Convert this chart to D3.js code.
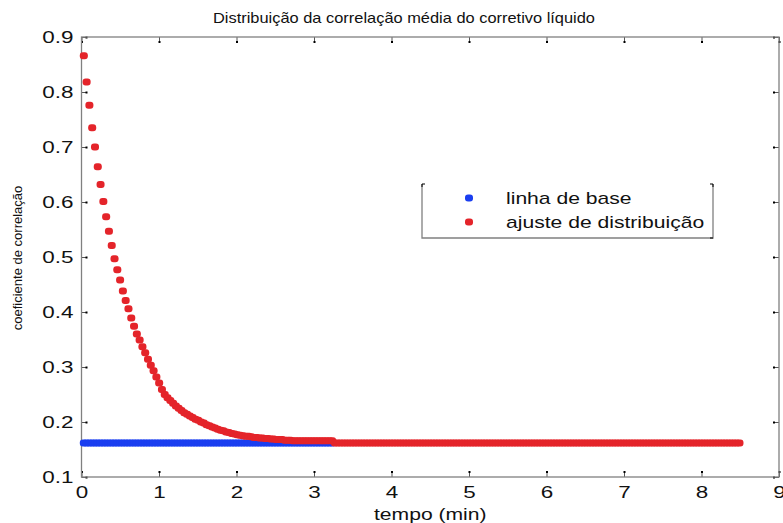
<!DOCTYPE html>
<html>
<head>
<meta charset="utf-8">
<script src="https://cdn.jsdelivr.net/npm/d3@7"></script>
<style>
body { margin: 0; background: #fff; }
text { font-family: "Liberation Sans", Arial, sans-serif; fill: #111; }
</style>
</head>
<body>
<div id="chart"></div>
<script>
// CHART START
const width = 783
const height = 523
const margin = {
    top: 37,
    bottom: 46,
    left: 81.5,
    right: 4
}

// textos
const title = "Distribuição da correlação média do corretivo líquido"
const xLabel = "tempo (min)"
const yLabel = "coeficiente de correlação"
const seriesNames = ["linha de base", "ajuste de distribuição"]
const seriesColors = ["#1a3ef0", "#e4242a"]

// ticks
const xTicks = [0, 1, 2, 3, 4, 5, 6, 7, 8, 9]
const yTicks = [0.1, 0.2, 0.3, 0.4, 0.5, 0.6, 0.7, 0.8, 0.9]

// tempo (min) de cada amostra
const time = [
    0.030, 0.066, 0.102, 0.138, 0.174, 0.210, 0.246, 0.282, 0.318, 0.354,
    0.390, 0.426, 0.462, 0.498, 0.534, 0.570, 0.606, 0.642, 0.678, 0.714,
    0.750, 0.786, 0.822, 0.858, 0.894, 0.930, 0.966, 1.002, 1.038, 1.074,
    1.110, 1.146, 1.182, 1.218, 1.254, 1.290, 1.326, 1.362, 1.398, 1.434,
    1.470, 1.506, 1.542, 1.578, 1.614, 1.650, 1.686, 1.722, 1.758, 1.794,
    1.830, 1.866, 1.902, 1.938, 1.974, 2.010, 2.046, 2.082, 2.118, 2.154,
    2.190, 2.226, 2.262, 2.298, 2.334, 2.370, 2.406, 2.442, 2.478, 2.514,
    2.550, 2.586, 2.622, 2.658, 2.694, 2.730, 2.766, 2.802, 2.838, 2.874,
    2.910, 2.946, 2.982, 3.018, 3.054, 3.090, 3.126, 3.162, 3.198, 3.234,
    3.270, 3.306, 3.342, 3.378, 3.414, 3.450, 3.486, 3.522, 3.558, 3.594,
    3.630, 3.666, 3.702, 3.738, 3.774, 3.810, 3.846, 3.882, 3.918, 3.954,
    3.990, 4.026, 4.062, 4.098, 4.134, 4.170, 4.206, 4.242, 4.278, 4.314,
    4.350, 4.386, 4.422, 4.458, 4.494, 4.530, 4.566, 4.602, 4.638, 4.674,
    4.710, 4.746, 4.782, 4.818, 4.854, 4.890, 4.926, 4.962, 4.998, 5.034,
    5.070, 5.106, 5.142, 5.178, 5.214, 5.250, 5.286, 5.322, 5.358, 5.394,
    5.430, 5.466, 5.502, 5.538, 5.574, 5.610, 5.646, 5.682, 5.718, 5.754,
    5.790, 5.826, 5.862, 5.898, 5.934, 5.970, 6.006, 6.042, 6.078, 6.114,
    6.150, 6.186, 6.222, 6.258, 6.294, 6.330, 6.366, 6.402, 6.438, 6.474,
    6.510, 6.546, 6.582, 6.618, 6.654, 6.690, 6.726, 6.762, 6.798, 6.834,
    6.870, 6.906, 6.942, 6.978, 7.014, 7.050, 7.086, 7.122, 7.158, 7.194,
    7.230, 7.266, 7.302, 7.338, 7.374, 7.410, 7.446, 7.482, 7.518, 7.554,
    7.590, 7.626, 7.662, 7.698, 7.734, 7.770, 7.806, 7.842, 7.878, 7.914,
    7.950, 7.986, 8.022, 8.058, 8.094, 8.130, 8.166, 8.202, 8.238, 8.274,
    8.310, 8.346, 8.382, 8.418, 8.454, 8.490
]

// linha de base (azul)
const baseValue = [
    0.162, 0.162, 0.162, 0.162, 0.162, 0.162, 0.162, 0.162, 0.162, 0.162,
    0.162, 0.162, 0.162, 0.162, 0.162, 0.162, 0.162, 0.162, 0.162, 0.162,
    0.162, 0.162, 0.162, 0.162, 0.162, 0.162, 0.162, 0.162, 0.162, 0.162,
    0.162, 0.162, 0.162, 0.162, 0.162, 0.162, 0.162, 0.162, 0.162, 0.162,
    0.162, 0.162, 0.162, 0.162, 0.162, 0.162, 0.162, 0.162, 0.162, 0.162,
    0.162, 0.162, 0.162, 0.162, 0.162, 0.162, 0.162, 0.162, 0.162, 0.162,
    0.162, 0.162, 0.162, 0.162, 0.162, 0.162, 0.162, 0.162, 0.162, 0.162,
    0.162, 0.162, 0.162, 0.162, 0.162, 0.162, 0.162, 0.162, 0.162, 0.162,
    0.162, 0.162, 0.162, 0.162, 0.162, 0.162, 0.162, 0.162, 0.162, 0.162
]

// ajuste de distribuição (vermelho)
const fitValue = [
    0.866, 0.818, 0.776, 0.735, 0.700, 0.664, 0.632, 0.601, 0.573, 0.547,
    0.521, 0.497, 0.477, 0.458, 0.438, 0.421, 0.406, 0.389, 0.374, 0.360,
    0.349, 0.337, 0.326, 0.314, 0.303, 0.293, 0.282, 0.271, 0.259, 0.250,
    0.244, 0.239, 0.234, 0.229, 0.225, 0.221, 0.217, 0.214, 0.211, 0.208,
    0.205, 0.203, 0.200, 0.198, 0.195, 0.193, 0.191, 0.189, 0.187, 0.185,
    0.184, 0.182, 0.181, 0.179, 0.178, 0.177, 0.176, 0.175, 0.174, 0.174,
    0.173, 0.172, 0.172, 0.171, 0.171, 0.170, 0.170, 0.169, 0.169, 0.168,
    0.168, 0.168, 0.167, 0.167, 0.167, 0.166, 0.166, 0.166, 0.166, 0.166,
    0.166, 0.166, 0.166, 0.166, 0.166, 0.166, 0.166, 0.166, 0.166, 0.166,
    0.162, 0.162, 0.162, 0.162, 0.162, 0.162, 0.162, 0.162, 0.162, 0.162,
    0.162, 0.162, 0.162, 0.162, 0.162, 0.162, 0.162, 0.162, 0.162, 0.162,
    0.162, 0.162, 0.162, 0.162, 0.162, 0.162, 0.162, 0.162, 0.162, 0.162,
    0.162, 0.162, 0.162, 0.162, 0.162, 0.162, 0.162, 0.162, 0.162, 0.162,
    0.162, 0.162, 0.162, 0.162, 0.162, 0.162, 0.162, 0.162, 0.162, 0.162,
    0.162, 0.162, 0.162, 0.162, 0.162, 0.162, 0.162, 0.162, 0.162, 0.162,
    0.162, 0.162, 0.162, 0.162, 0.162, 0.162, 0.162, 0.162, 0.162, 0.162,
    0.162, 0.162, 0.162, 0.162, 0.162, 0.162, 0.162, 0.162, 0.162, 0.162,
    0.162, 0.162, 0.162, 0.162, 0.162, 0.162, 0.162, 0.162, 0.162, 0.162,
    0.162, 0.162, 0.162, 0.162, 0.162, 0.162, 0.162, 0.162, 0.162, 0.162,
    0.162, 0.162, 0.162, 0.162, 0.162, 0.162, 0.162, 0.162, 0.162, 0.162,
    0.162, 0.162, 0.162, 0.162, 0.162, 0.162, 0.162, 0.162, 0.162, 0.162,
    0.162, 0.162, 0.162, 0.162, 0.162, 0.162, 0.162, 0.162, 0.162, 0.162,
    0.162, 0.162, 0.162, 0.162, 0.162, 0.162, 0.162, 0.162, 0.162, 0.162,
    0.162, 0.162, 0.162, 0.162, 0.162, 0.162
]

const baseData = baseValue.map((v, i) => ({t: time[i], v: v}))
const fitData = fitValue.map((v, i) => ({t: time[i], v: v}))

const svg = d3.select("#chart")
    .append("svg")
    .attr("width", width)
    .attr("height", height)

svg.append("rect")
    .attr("width", width)
    .attr("height", height)
    .attr("fill", "#fff")

// escalas
const x = d3.scaleLinear()
    .domain([0, 9])
    .range([margin.left, width - margin.right])
const y = d3.scaleLinear()
    .domain([0.1, 0.9])
    .range([height - margin.bottom, margin.top])

const axisColor = "#808080"
const labelStretch = 1.32  // a figura original está esticada na horizontal
const markW = 8
const markH = 7

// eixos (ticks para dentro, como no matlab)
const xAxisGroup = svg.append("g")
    .attr("transform", `translate(0,${height - margin.bottom})`)
    .call(d3.axisBottom(x).tickValues(xTicks).tickSize(-5).tickPadding(9).tickFormat(d3.format("d")))
const xTopGroup = svg.append("g")
    .attr("transform", `translate(0,${margin.top})`)
    .call(d3.axisTop(x).tickValues(xTicks).tickSize(-5).tickFormat(""))
const yAxisGroup = svg.append("g")
    .attr("transform", `translate(${margin.left},0)`)
    .call(d3.axisLeft(y).tickValues(yTicks).tickSize(-5).tickPadding(9).tickFormat(d3.format(".1f")))
const yRightGroup = svg.append("g")
    .attr("transform", `translate(${width - margin.right},0)`)
    .call(d3.axisRight(y).tickValues(yTicks).tickSize(-5).tickFormat(""))

const allAxes = [xAxisGroup, xTopGroup, yAxisGroup, yRightGroup]
allAxes.forEach(g => {
    g.select(".domain").remove()
    g.selectAll(".tick line").attr("stroke", "#555")
})

// pontinho preto na ponta de cada tick
xAxisGroup.selectAll(".tick").append("rect").attr("x", -1).attr("y", -6).attr("width", 2).attr("height", 2).attr("fill", "#000")
xTopGroup.selectAll(".tick").append("rect").attr("x", -1).attr("y", 4).attr("width", 2).attr("height", 2).attr("fill", "#000")
yAxisGroup.selectAll(".tick").append("rect").attr("x", 4).attr("y", -1).attr("width", 2).attr("height", 2).attr("fill", "#000")
yRightGroup.selectAll(".tick").append("rect").attr("x", -6).attr("y", -1).attr("width", 2).attr("height", 2).attr("fill", "#000")

xAxisGroup.selectAll(".tick text")
    .attr("font-size", 17)
    .attr("font-family", "Liberation Sans, Arial, sans-serif")
    .attr("fill", "#111")
    .attr("transform", `scale(${labelStretch},1)`)
yAxisGroup.selectAll(".tick text")
    .attr("font-size", 17)
    .attr("font-family", "Liberation Sans, Arial, sans-serif")
    .attr("fill", "#111")
    .attr("x", -8 / labelStretch)
    .attr("transform", `scale(${labelStretch},1)`)

// caixa do gráfico
svg.append("rect")
    .attr("x", x(0))
    .attr("y", y(0.9))
    .attr("width", x(9) - x(0))
    .attr("height", y(0.1) - y(0.9))
    .attr("fill", "none")
    .attr("stroke", axisColor)
    .attr("stroke-width", 1.3)

// pontos
const elementGroup = svg.append("g")
elementGroup.selectAll(".base")
    .data(baseData)
    .enter()
    .append("rect")
    .attr("class", "base")
    .attr("x", d => x(d.t) - markW / 2)
    .attr("y", d => y(d.v) - markH / 2)
    .attr("width", markW)
    .attr("height", markH)
    .attr("rx", 3)
    .attr("fill", seriesColors[0])
elementGroup.selectAll(".fit")
    .data(fitData)
    .enter()
    .append("rect")
    .attr("class", "fit")
    .attr("x", d => x(d.t) - markW / 2)
    .attr("y", d => y(d.v) - markH / 2)
    .attr("width", markW)
    .attr("height", markH)
    .attr("rx", 3)
    .attr("fill", seriesColors[1])

// títulos
svg.append("text")
    .attr("x", 404)
    .attr("y", 23)
    .attr("text-anchor", "middle")
    .attr("font-family", "Open Sans, sans-serif")
    .attr("font-size", 14.5)
    .attr("textLength", 382)
    .attr("lengthAdjust", "spacingAndGlyphs")
    .text(title)

svg.append("text")
    .attr("transform", `translate(${x(4.5)},${height - 3}) scale(${labelStretch},1)`)
    .attr("text-anchor", "middle")
    .attr("font-size", 16)
    .text(xLabel)

svg.append("text")
    .attr("transform", `translate(22,258) rotate(-90)`)
    .attr("text-anchor", "middle")
    .attr("font-family", "Liberation Sans Narrow, Liberation Sans, Arial, sans-serif")
    .attr("font-size", 13)
    .text(yLabel)

// legenda
const legend = {x: 422, y: 184, w: 291, h: 54}
const legendGroup = svg.append("g")
legendGroup.append("path")
    .attr("d", `M${legend.x},${legend.y}V${legend.y + legend.h}H${legend.x + legend.w}V${legend.y}`)
    .attr("fill", "none")
    .attr("stroke", axisColor)
    .attr("stroke-width", 1.3)
legendGroup.append("path")
    .attr("d", `M${legend.x},${legend.y + 3}V${legend.y}H${legend.x + 3}M${legend.x + legend.w - 3},${legend.y}H${legend.x + legend.w}V${legend.y + 3}M${legend.x + legend.w - 3},${legend.y + legend.h}H${legend.x + legend.w}`)
    .attr("fill", "none")
    .attr("stroke", "#000")
    .attr("stroke-width", 1)

seriesNames.forEach((name, i) => {
    const ly = legend.y + 14 + i * 24
    legendGroup.append("rect")
        .attr("x", legend.x + 47 - markW / 2)
        .attr("y", ly - markH / 2)
        .attr("width", markW)
        .attr("height", markH)
        .attr("rx", 3)
        .attr("fill", seriesColors[i])
    legendGroup.append("text")
        .attr("transform", `translate(${legend.x + 84},${ly + 6}) scale(${labelStretch},1)`)
        .attr("font-size", 16)
        .text(name)
})
</script>
</body>
</html>
